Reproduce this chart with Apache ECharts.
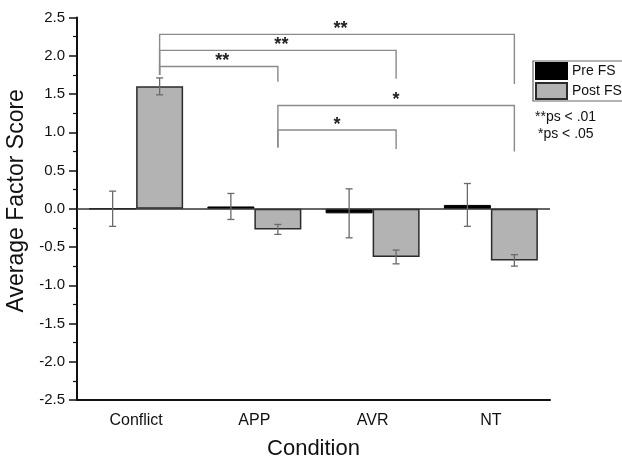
<!DOCTYPE html>
<html>
<head>
<meta charset="utf-8">
<script src="https://cdn.jsdelivr.net/npm/echarts@6/dist/echarts.min.js"></script>
<style>
  html, body { margin: 0; padding: 0; background: #fff; }
  #chart { width: 622px; height: 458px; }
</style>
</head>
<body>
<div id="chart"></div>
<script>
// ---- data ----
const categories = ['Conflict', 'APP', 'AVR', 'NT'];
const preFS = [0.00, 0.03, -0.06, 0.05];
const preErr = [0.23, 0.17, 0.32, 0.28];
const postFS = [1.60, -0.27, -0.63, -0.675];
const postErr = [0.11, 0.065, 0.09, 0.075];
const yMin = -2.5, yMax = 2.5, yInterval = 0.5;
// significance brackets between Post FS bars: [fromCat, toCat, level, leftEnd, rightEnd]
const bracketFrom = [0, 0, 0, 1, 1];
const bracketTo = [3, 2, 1, 3, 2];
const bracketLevel = [2.28, 2.07, 1.86, 1.35, 1.03];
const bracketLeftEnd = [1.75, 1.75, 1.75, 0.80, 0.80];
const bracketRightEnd = [1.63, 1.70, 1.66, 0.75, 0.78];
const bracketLabel = ['**', '**', '**', '*', '*'];
const noteLines = ['**ps < .01', '*ps < .05'];

// ---- style constants ----
const FONT = '"Liberation Sans", Arial, Helvetica, sans-serif';
const BAR_W = 47;
const CAP = 3.5;

const chart = echarts.init(document.getElementById('chart'), null, { renderer: 'canvas' });

function errRender(side) {
  return function (params, api) {
    const cat = api.value(0), v = api.value(1), e = api.value(2);
    const top = api.coord([cat, v + e]);
    const bot = api.coord([cat, v - e]);
    const x = top[0] + side * BAR_W / 2;
    const st = { stroke: '#6a6a6a', lineWidth: 1.3 };
    return {
      type: 'group',
      children: [
        { type: 'line', shape: { x1: x, y1: top[1], x2: x, y2: bot[1] }, style: st },
        { type: 'line', shape: { x1: x - CAP, y1: top[1], x2: x + CAP, y2: top[1] }, style: st },
        { type: 'line', shape: { x1: x - CAP, y1: bot[1], x2: x + CAP, y2: bot[1] }, style: st }
      ]
    };
  };
}

function bracketRender(params, api) {
  const i = params.dataIndex;
  const a = api.coord([api.value(0), api.value(2)]);
  const b = api.coord([api.value(1), api.value(2)]);
  const xl = a[0] + BAR_W / 2, xr = b[0] + BAR_W / 2;
  const yl = api.coord([api.value(0), api.value(3)])[1];
  const yr = api.coord([api.value(1), api.value(4)])[1];
  const y = a[1];
  const lab = bracketLabel[i];
  return {
    type: 'group',
    children: [
      { type: 'polyline', shape: { points: [[xl, yl], [xl, y], [xr, y], [xr, yr]] },
        style: { stroke: '#8a8a8a', lineWidth: 1.4, fill: null } },
      { type: 'text', style: { text: lab, x: (xl + xr) / 2 + (lab.length - 1) * 3.5, y: y - 5,
        align: 'center', verticalAlign: 'middle', fontSize: 18, fontWeight: 'bold', fontFamily: FONT, fill: '#222' } }
    ]
  };
}

const option = {
  backgroundColor: '#fff',
  animation: false,
  grid: { left: 77, right: 72, top: 17.5, bottom: 58, outerBoundsMode: 'none', containLabel: false },
  legend: {
    data: ['Pre FS', 'Post FS'],
    orient: 'vertical',
    left: 533,
    top: 61,
    icon: 'rect',
    itemWidth: 31,
    itemHeight: 16,
    itemGap: 2,
    padding: [1, 3, 1, 2],
    borderColor: '#666',
    borderWidth: 1.2,
    textStyle: { fontSize: 14, fontFamily: FONT, color: '#111' }
  },
  xAxis: {
    type: 'category',
    data: categories,
    name: 'Condition',
    nameLocation: 'middle',
    nameGap: 38,
    nameTextStyle: { fontSize: 22, fontFamily: FONT, color: '#111' },
    axisLine: { onZero: false, lineStyle: { color: '#111', width: 2 } },
    axisTick: { show: false },
    axisLabel: { fontSize: 16, fontFamily: FONT, color: '#111', margin: 13 },
    splitLine: { show: false }
  },
  yAxis: {
    type: 'value',
    min: yMin,
    max: yMax,
    interval: yInterval,
    name: 'Average Factor Score',
    nameLocation: 'middle',
    nameGap: 47,
    nameTextStyle: { fontSize: 23, fontFamily: FONT, color: '#111', padding: [0, 0, 0, 16] },
    axisLine: { show: true, lineStyle: { color: '#111', width: 2 } },
    axisTick: { show: true, length: 8, lineStyle: { color: '#111', width: 1.5 } },
    minorTick: { show: true, splitNumber: 2, length: 4, lineStyle: { color: '#111', width: 1.2 } },
    axisLabel: { fontSize: 15, fontFamily: FONT, color: '#111', margin: 12,
      formatter: v => v.toFixed(1) },
    splitLine: { show: false }
  },
  series: [
    {
      name: 'Pre FS',
      type: 'bar',
      data: preFS,
      barWidth: BAR_W,
      barGap: '0%',
      itemStyle: { color: '#000', borderColor: '#000', borderWidth: 1 },
      markLine: {
        silent: true,
        symbol: 'none',
        label: { show: false },
        lineStyle: { color: '#333', width: 1.5, type: 'solid' },
        data: [{ yAxis: 0 }]
      }
    },
    {
      name: 'Post FS',
      type: 'bar',
      data: postFS,
      barWidth: BAR_W,
      barGap: '0%',
      itemStyle: { color: '#b3b3b3', borderColor: '#2b2b2b', borderWidth: 1.5 }
    },
    {
      type: 'custom',
      name: 'preErr',
      renderItem: errRender(-1),
      data: categories.map((c, i) => [i, preFS[i], preErr[i]]),
      z: 5, silent: true
    },
    {
      type: 'custom',
      name: 'postErr',
      renderItem: errRender(1),
      data: categories.map((c, i) => [i, postFS[i], postErr[i]]),
      z: 5, silent: true
    },
    {
      type: 'custom',
      name: 'brackets',
      renderItem: bracketRender,
      data: bracketFrom.map((f, i) => [f, bracketTo[i], bracketLevel[i], bracketLeftEnd[i], bracketRightEnd[i]]),
      z: 5, silent: true, clip: false
    }
  ],
  graphic: [
    { type: 'text', left: 535, top: 110, style: { text: noteLines[0], fontSize: 14, fontFamily: FONT, fill: '#111' } },
    { type: 'text', left: 538, top: 127, style: { text: noteLines[1], fontSize: 14, fontFamily: FONT, fill: '#111' } }
  ]
};

chart.setOption(option);
</script>
</body>
</html>
